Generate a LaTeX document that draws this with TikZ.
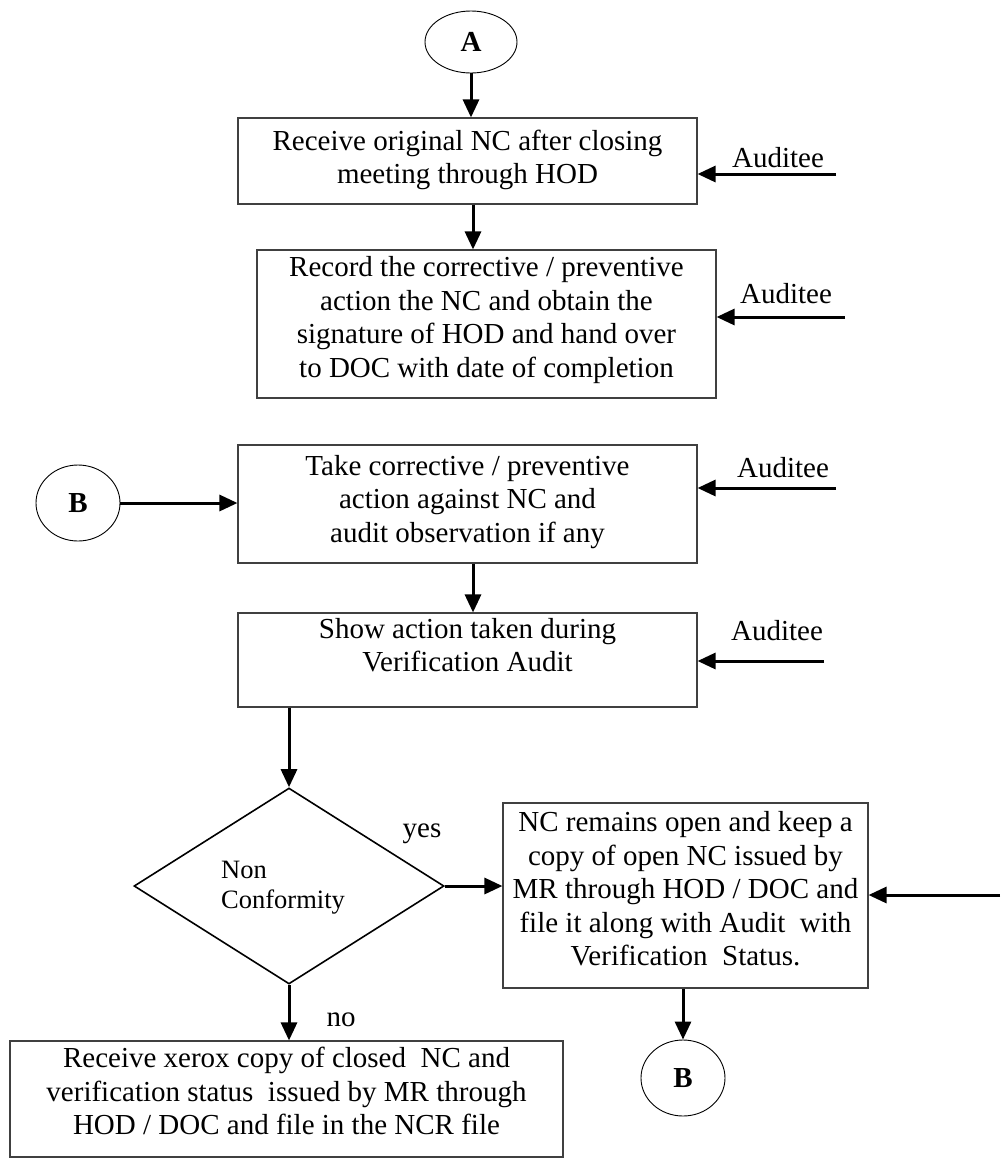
\documentclass[tikz,border=0pt]{standalone}
\usepackage{fontspec}
\setmainfont{Liberation Serif}
\usetikzlibrary{arrows.meta,shapes.geometric}
\begin{document}
\begin{tikzpicture}[x=1pt,y=-1pt,
  every node/.style={font=\fontsize{29}{33.5}\selectfont, inner sep=0pt},
  procbox/.style={draw=black!75, line width=1.1pt, rectangle},
  txt/.style={align=center},
  term/.style={draw, ellipse, line width=0.9pt, font=\fontsize{29}{33.5}\selectfont\bfseries},
  decision/.style={draw, diamond, line width=1.6pt, minimum width=310pt, minimum height=196pt, aspect=1.58},
  flow/.style={line width=3pt, -{Triangle[length=18pt,width=16pt]}}
]
\useasboundingbox (0,0) rectangle (1001,1160);

% connector circles
\node[term, minimum width=92pt, minimum height=62pt] (A) at (471,42) {A};
\node[term, minimum width=84pt, minimum height=76pt] (B1) at (78,503) {B};
\node[term, minimum width=84pt, minimum height=76pt] (B2) at (683,1078) {B};

% process boxes
\node[procbox, minimum width=459pt, minimum height=86pt] (b1) at (467.5,161) {};
\node[txt] (b1t) at (467.5,160) {Receive original NC after closing\\meeting through HOD};

\node[procbox, minimum width=459pt, minimum height=148pt] (b2) at (486.5,324) {};
\node[txt] (b2t) at (486.5,320) {Record the corrective / preventive\\action the NC and obtain the\\signature of HOD and hand over\\to DOC with date of completion};

\node[procbox, minimum width=459pt, minimum height=118pt] (b3) at (467.5,504) {};
\node[txt] (b3t) at (467.5,502) {Take corrective / preventive\\action against NC and\\audit observation if any};

\node[procbox, minimum width=459pt, minimum height=94pt] (b4) at (467.5,660) {};
\node[txt] (b4t) at (467.5,645) {Show action taken during\\Verification Audit};

\node[decision] (nc) at (289,886) {};
\node[align=left, anchor=west, font=\fontsize{26.5}{30}\selectfont] (nct) at (221,888) {Non\\Conformity};

\node[procbox, minimum width=365pt, minimum height=185pt] (b5) at (685.5,895.5) {};
\node[txt] (b5t) at (685.5,889) {NC remains open and keep a\\copy of open NC issued by\\MR through HOD / DOC and\\file it along with Audit\ \ with\\Verification\ \ Status.};

\node[procbox, minimum width=553pt, minimum height=116pt] (b6) at (286.5,1099) {};
\node[txt] (b6t) at (286.5,1091) {Receive xerox copy of closed\ \ NC and\\verification status\ \ issued by MR through\\HOD / DOC and file in the NCR file};

% side labels
\node[anchor=base] (l1) at (778,167) {Auditee};
\node[anchor=base] (l2) at (786,303) {Auditee};
\node[anchor=base] (l3) at (783,477) {Auditee};
\node[anchor=base] (l4) at (777,640) {Auditee};
\node (yes) at (422,834) {yes};
\node (no) at (341,1020) {no};

% free ends of the side arrows
\coordinate (in1) at (836,174);
\coordinate (in2) at (845,317);
\coordinate (in3) at (836,488);
\coordinate (in4) at (824,661);
\coordinate (in5) at (1000,895);

% main flow
\draw[flow] (A.south) -- (A.south |- b1.north);
\draw[flow] (b1.south -| 473,0) -- (b2.north -| 473,0);
\draw[flow] (B1.east) -- (B1.east -| b3.west);
\draw[flow] (b3.south -| 473,0) -- (b4.north -| 473,0);
\draw[flow] (nc.north |- b4.south) -- (nc.north);
\draw[flow] (nc.east) -- (nc.east -| b5.west);
\draw[flow] (nc.south) -- (nc.south |- b6.north);
\draw[flow] (b5.south -| B2.north) -- (B2.north);

% side arrows
\draw[flow] (in1) -- (in1 -| b1.east);
\draw[flow] (in2) -- (in2 -| b2.east);
\draw[flow] (in3) -- (in3 -| b3.east);
\draw[flow] (in4) -- (in4 -| b4.east);
\draw[flow] (in5) -- (in5 -| b5.east);
\end{tikzpicture}
\end{document}
